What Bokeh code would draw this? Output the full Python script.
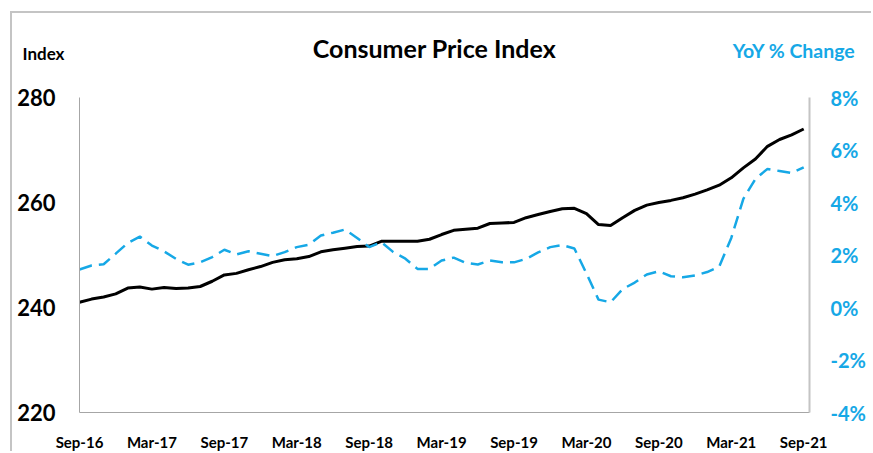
from bokeh.plotting import figure
from bokeh.models import LinearAxis, Range1d, FixedTicker, Label, PrintfTickFormatter
from bokeh.embed import file_html
from bokeh.resources import INLINE

# ---- data (monthly, Sep-16 .. Sep-21) ----
tick_labels = ["Sep-16", "Mar-17", "Sep-17", "Mar-18", "Sep-18", "Mar-19",
               "Sep-19", "Mar-20", "Sep-20", "Mar-21", "Sep-21"]
cpi_index = [241.0, 241.6, 242.0, 242.6, 243.7, 243.9, 243.5, 243.8, 243.6, 243.7,
             244.0, 245.0, 246.2, 246.5, 247.2, 247.8, 248.6, 249.1, 249.3, 249.7,
             250.6, 251.0, 251.3, 251.6, 251.7, 252.6, 252.6, 252.6, 252.6, 253.0,
             253.9, 254.7, 254.9, 255.1, 256.0, 256.1, 256.2, 257.1, 257.7, 258.3,
             258.8, 258.9, 257.9, 255.8, 255.6, 257.1, 258.5, 259.5, 260.0, 260.4,
             260.9, 261.6, 262.4, 263.3, 264.7, 266.6, 268.3, 270.7, 272.0, 272.9,
             274.0]
yoy_change = [1.45, 1.60, 1.65, 2.05, 2.46, 2.70, 2.36, 2.14, 1.85, 1.63,
              1.72, 1.92, 2.20, 2.02, 2.14, 2.05, 1.96, 2.11, 2.30, 2.39,
              2.74, 2.85, 2.97, 2.65, 2.30, 2.49, 2.11, 1.86, 1.47, 1.47,
              1.79, 1.90, 1.70, 1.64, 1.79, 1.72, 1.72, 1.85, 2.10, 2.30,
              2.38, 2.25, 1.30, 0.30, 0.20, 0.70, 0.95, 1.26, 1.38, 1.19,
              1.15, 1.22, 1.35, 1.56, 2.65, 4.14, 4.90, 5.28, 5.20, 5.12,
              5.34]
left_ticks = [220, 240, 260, 280]
right_ticks = [-4, -2, 0, 2, 4, 6, 8]
title_text = "Consumer Price Index"
left_header = "Index"
right_header = "YoY % Change"

months = list(range(len(cpi_index)))
tick_pos = months[::6]

BLUE = "#16a8e6"
FONT = "Lato"

p = figure(width=861, height=440,
           x_range=Range1d(0, 60.48), y_range=Range1d(220, 280),
           output_backend="svg", toolbar_location=None,
           min_border_left=67, min_border_right=64,
           min_border_top=84, min_border_bottom=41,
           background_fill_color="white", border_fill_color="white",
           styles={"position": "relative", "left": "10px", "top": "11px",
                   "border-left": "2px solid #c4c4c4",
                   "border-top": "2px solid #c4c4c4"})
p.extra_y_ranges = {"yoy": Range1d(-4, 8)}
p.grid.visible = False
p.outline_line_color = None

# lines
p.line(months, cpi_index, line_color="black", line_width=3)
p.line(months, yoy_change, line_color=BLUE, line_width=2.5,
       line_dash="13 7", y_range_name="yoy")

def style_axis(ax, size, color, standoff, line_color, line_width):
    ax.major_label_text_font = FONT
    ax.major_label_text_font_style = "bold"
    ax.major_label_text_font_size = size
    ax.major_label_text_color = color
    ax.major_label_standoff = standoff
    ax.axis_line_color = line_color
    ax.axis_line_width = line_width
    ax.major_tick_line_color = None
    ax.minor_tick_line_color = None
    ax.major_tick_out = 0
    ax.major_tick_in = 0
    ax.minor_tick_out = 0
    ax.minor_tick_in = 0

# bottom axis
xa = p.xaxis[0]
xa.ticker = FixedTicker(ticks=tick_pos)
xa.major_label_overrides = {t: lab for t, lab in zip(tick_pos, tick_labels)}
style_axis(xa, "15px", "black", 20, "#a6a6a6", 1)

# left axis
ya = p.yaxis[0]
ya.ticker = FixedTicker(ticks=left_ticks)
style_axis(ya, "22px", "black", 24, "#a6a6a6", 1)

# right axis
ra = LinearAxis(y_range_name="yoy", ticker=FixedTicker(ticks=right_ticks),
                formatter=PrintfTickFormatter(format="%d%%"))
style_axis(ra, "20px", BLUE, 21, "#c4c4c4", 2)
p.add_layout(ra, "right")

# header texts, placed in the top panel (screen offsets from that panel)
p.add_layout(Label(x=355, y=49.8, x_units="screen", y_units="screen", text=title_text,
                   text_font=FONT, text_font_style="bold", text_font_size="25px",
                   text_align="center", text_baseline="alphabetic", text_color="black"),
             "above")
p.add_layout(Label(x=-57, y=13.7, x_units="screen", y_units="screen", text=left_header,
                   text_font=FONT, text_font_style="bold", text_font_size="17px",
                   text_align="left", text_baseline="alphabetic", text_color="black"),
             "above")
p.add_layout(Label(x=776, y=-4.3, x_units="screen", y_units="screen", text=right_header,
                   text_font=FONT, text_font_style="bold", text_font_size="19.5px",
                   text_align="right", text_baseline="alphabetic", text_color=BLUE),
             "above")

open("out.html", "w").write(file_html(p, INLINE))
